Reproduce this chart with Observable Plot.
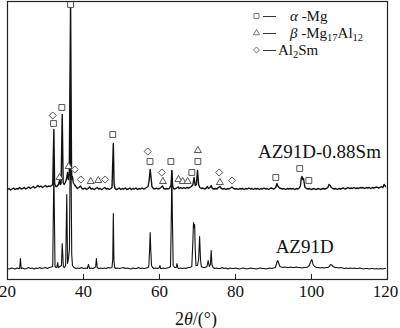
<!DOCTYPE html>
<html><head><meta charset="utf-8">
<script src="https://cdn.jsdelivr.net/npm/d3@7"></script>
<script src="https://cdn.jsdelivr.net/npm/@observablehq/plot@0.6"></script>
<style>html,body{margin:0;padding:0;background:#fff;}</style>
</head><body>
<div id="chart"></div>
<script>
// x ticks (2θ, degrees)
const xTicks = [20, 40, 60, 80, 100, 120];

// AZ91D pattern: [2θ, relative intensity]
const az91d = [[20,11],[20.5,10.5],[21,11.5],[21.5,11],[22,10.5],[22.5,11.5],[23,11],[23.2,11],[23.4,21],[23.6,11],[24,11.5],[24.5,10.5],[25,11],[25.5,12],[26,11],[26.5,11.5],[27,10.5],[27.5,11.5],[28,11],[28.5,12],[29,11],[29.5,11.5],[30,12],[30.5,11],[31,12],[31.5,12.5],[31.9,13],[32.2,110],[32.5,13],[32.8,12],[33.0,12],[33.2,17],[33.4,12],[33.8,13],[34.2,14],[34.4,36],[34.7,13],[35.0,12],[35.3,14],[35.6,85],[35.8,16],[36.0,20],[36.3,30],[36.6,175],[36.9,25],[37.1,14],[37.5,12],[38,11],[38.5,11.5],[39,11],[39.5,12],[40,11],[40.5,11.5],[41,11],[41.3,15],[41.6,11],[42,11.5],[42.5,11],[43,12],[43.2,13],[43.4,21],[43.6,12],[44,11],[44.5,11.5],[45,11],[45.5,11.5],[46,11],[46.5,12],[47,11.5],[47.5,12],[47.7,20],[47.85,66],[48.0,20],[48.2,12],[48.5,11],[49,11.5],[49.5,11],[50,11.5],[50.5,12],[51,11],[51.5,11.5],[52,11],[52.5,10.5],[53,11.5],[53.5,11],[54,11],[54.5,12],[55,11],[55.5,11.5],[56,11],[56.5,11.5],[57,12],[57.2,14],[57.4,30],[57.55,47],[57.7,30],[57.9,14],[58.2,12],[58.5,11],[59,11.5],[59.5,11],[60,12],[60.1,14],[60.3,11],[60.5,11],[61,11.5],[61.5,11],[62,11.5],[62.5,12],[62.9,13],[63.1,60],[63.25,109],[63.4,60],[63.6,14],[64,12],[64.4,12],[64.6,16],[64.8,12],[65,11],[65.5,11.5],[66,11],[66.5,11.5],[67,11],[67.5,12],[68,12],[68.5,13],[68.8,40],[68.95,57],[69.1,52],[69.25,55],[69.4,30],[69.6,14],[70,14],[70.3,20],[70.55,43],[70.8,20],[71,13],[71.5,12],[72,12],[72.5,13],[72.8,19],[73.1,13],[73.4,15],[73.6,29],[73.8,15],[74.1,12],[74.5,11],[75,11.5],[75.5,11],[76,11],[76.5,12],[77,11],[77.5,11.5],[78,10.5],[78.5,11.5],[79,11],[79.5,11],[80,11.5],[80.5,11],[81,10.5],[81.5,11],[82,11.5],[82.5,11],[83,10.5],[83.5,11],[84,11.5],[84.5,11],[85,11],[85.5,10.5],[86,11],[86.5,11.5],[87,11],[87.5,11],[88,10.5],[88.5,11],[89,11.5],[89.5,11],[90,11.5],[90.5,12],[90.8,16],[91.1,19],[91.4,16],[91.7,13],[92,12.5],[92.5,12],[93,12.5],[93.5,12],[94,12],[94.5,12.5],[95,12],[95.5,12],[96,12.5],[96.5,12],[97,12],[97.5,11.5],[98,12],[98.5,12],[99,12.5],[99.4,14],[99.8,18],[100.1,20],[100.4,15],[100.8,13],[101.3,12],[101.8,12],[102.3,11.5],[102.8,12],[103.3,11.5],[103.8,12],[104.3,12],[104.7,13],[105,15],[105.3,14.5],[105.7,13],[106.2,12],[106.7,12],[107.2,11.5],[107.7,12],[108.2,11.5],[108.7,11],[109.2,11.5],[109.7,11],[110.2,11.5],[110.7,11],[111.2,11.5],[111.7,11],[112.2,11],[112.7,11.5],[113.2,11],[113.7,10.5],[114.2,11],[114.7,11],[115.2,10.5],[115.7,11],[116.2,11],[116.7,10.5],[117.2,11],[117.7,10.5],[118.2,11],[118.7,10.5],[119.2,11],[119.5,11]];

// AZ91D-0.88Sm pattern: [2θ, relative intensity]
const az91dSm = [[20,90],[20.4,91],[20.8,89.5],[21.2,90.5],[21.6,91.5],[22,90],[22.4,91],[22.8,90.5],[23.2,92],[23.6,90.5],[24,91],[24.4,92],[24.8,90.5],[25.2,91.5],[25.6,92.5],[26,91],[26.4,92],[26.8,93],[27.2,91.5],[27.6,92.5],[28,94],[28.4,92.5],[28.8,93.5],[29.2,92],[29.6,93],[30,94],[30.4,92.5],[30.8,93.5],[31.2,93],[31.6,94],[31.9,95],[32.2,150],[32.4,96],[32.7,93],[33,93],[33.4,95],[33.7,99],[33.9,95],[34.1,96],[34.4,165],[34.65,97],[34.9,95],[35.2,97],[35.5,100],[35.8,107],[36.0,100],[36.25,105],[36.6,276],[36.85,110],[36.95,100],[37.1,103],[37.3,97],[37.6,95],[38,93],[38.4,91],[38.8,92],[39.2,93.5],[39.6,91],[40,90.5],[40.4,91.5],[40.8,90],[41.2,91],[41.6,92.5],[42,90.5],[42.4,91],[42.8,90],[43.2,91],[43.6,92],[44,90.5],[44.4,91],[44.8,90],[45.2,91],[45.6,92],[46,90.5],[46.4,91],[46.8,90],[47.2,91],[47.5,92],[47.85,136],[48.05,95],[48.3,91],[48.6,90],[49,90.5],[49.4,91.5],[49.8,90],[50.2,91],[50.6,90.5],[51,91.5],[51.4,90],[51.8,90.5],[52.2,91.5],[52.6,90],[53,91],[53.4,90.5],[53.8,91.5],[54.2,90],[54.6,91],[55,90.5],[55.4,91.5],[55.8,90.5],[56.2,91],[56.6,92],[57,93],[57.3,100],[57.55,110],[57.8,101],[58,93],[58.4,91],[58.8,90.5],[59.2,91.5],[59.6,90.5],[60,91],[60.4,92],[60.8,93.5],[61.1,91],[61.5,90.5],[61.9,91],[62.3,90.5],[62.7,91.5],[63.05,95],[63.25,109],[63.45,94],[63.7,91],[64.1,90.5],[64.5,91.5],[64.9,92.5],[65.2,91],[65.6,92],[66,91],[66.4,92],[66.8,91],[67.2,92],[67.6,91.5],[68,92],[68.4,93],[68.8,95],[69.1,102],[69.4,94],[69.7,95],[70.0,109],[70.3,95],[70.6,92],[71,91],[71.4,91.5],[71.8,90.5],[72.2,91],[72.6,93],[72.9,91],[73.3,92],[73.6,94],[73.9,91],[74.3,90.5],[74.7,91],[75.1,90.5],[75.5,92],[75.9,93],[76.3,91],[76.7,90.5],[77.1,91],[77.5,90],[77.9,91],[78.3,90.5],[78.7,91.5],[79.1,92.5],[79.5,91],[79.9,90.5],[80.3,91],[80.7,90],[81.1,91],[81.5,90.5],[81.9,91],[82.3,90],[82.7,91],[83.1,90.5],[83.5,91.5],[83.9,90.5],[84.3,91],[84.7,90],[85.1,91],[85.5,90.5],[85.9,91],[86.3,90],[86.7,91],[87.1,90.5],[87.5,91.5],[87.9,90.5],[88.3,91],[88.7,90],[89.1,91],[89.5,91.5],[89.9,90.5],[90.3,91],[90.6,92],[90.9,96],[91.2,93],[91.6,91.5],[92,91],[92.4,90.5],[92.8,91],[93.2,90],[93.6,91],[94,90.5],[94.4,91],[94.8,90.5],[95.2,91],[95.6,90],[96,91],[96.4,90.5],[96.8,91.5],[97.1,94],[97.3,101],[97.5,103],[97.7,100],[97.9,101],[98.1,96],[98.3,92],[98.7,91],[99.1,90.5],[99.5,91],[99.9,90],[100.3,90.5],[100.7,91],[101.1,90],[101.5,90.5],[101.9,91],[102.3,90],[102.7,90.5],[103.1,91],[103.5,90.5],[103.9,91],[104.3,92],[104.6,95],[104.9,94],[105.2,92],[105.6,91],[106,90.5],[106.4,91],[106.8,90],[107.2,91],[107.6,90.5],[108,91],[108.4,91.5],[108.8,90.5],[109.2,91],[109.6,92],[110,91],[110.4,91.5],[110.8,91],[111.2,92],[111.6,91],[112,91.5],[112.4,91],[112.8,92],[113.2,91.5],[113.6,92],[114,91],[114.4,92],[114.8,91.5],[115.2,92],[115.6,91],[116,92],[116.4,91.5],[116.8,92],[117.2,92.5],[117.6,91.5],[118,92],[118.4,93],[118.8,92],[119.1,95],[119.5,93]];

// phase markers [2θ, intensity level]
const alphaMg = [[32.1,156],[34.3,172],[36.6,275],[47.7,145],[57.5,118],[63.0,118],[68.5,107],[70.1,118],[90.6,102],[96.9,111],[99.3,99]];
const betaPhase = [[33.7,102],[36.1,113],[41.9,98],[43.9,99],[60.9,98],[65.0,100],[66.1,98],[67.4,98],[70.1,129],[75.9,97]];
const al2sm = [[31.9,164],[37.7,110],[39.3,100],[45.7,100],[56.9,128],[60.6,107],[75.7,107],[79.1,99]];

const sampleNames = ["AZ91D-0.88Sm", "AZ91D"];

const serif = "'Liberation Serif','Times New Roman',Times,serif";
const mk = {x: d => d[0], y: d => d[1], fill: "white", stroke: "#444", strokeWidth: 0.9};

const chart = Plot.plot({
  width: 400, height: 328,
  marginTop: 1, marginBottom: 49, marginLeft: 7, marginRight: 13,
  style: {fontFamily: serif, fontSize: "17px", background: "white", color: "#111"},
  x: {domain: [20, 120], ticks: xTicks},
  y: {domain: [0, 278], axis: null},
  marks: [
    Plot.axisX({ticks: xTicks, tickSize: 0, tickPadding: 5, label: null}),
    Plot.ruleX(xTicks, {y1: 0, y2: 5, stroke: "#222", strokeWidth: 1}),
    Plot.line(az91d, {x: d => d[0], y: d => d[1], stroke: "#111", strokeWidth: 1.1}),
    Plot.line(az91dSm, {x: d => d[0], y: d => d[1], stroke: "#111", strokeWidth: 1.4}),
    Plot.dot(alphaMg, {...mk, symbol: "square", r: 3.3}),
    Plot.dot(betaPhase, {...mk, symbol: "triangle", r: 2.6}),
    Plot.dot(al2sm, {...mk, symbol: "diamond2", r: 3.2}),
    Plot.text([sampleNames[0]], {x: 102.1, y: 122, text: d => d, lineAnchor: "bottom", textAnchor: "middle", fontSize: 19, fill: "#111", ariaLabel: "sample label"}),
    Plot.text([sampleNames[1]], {x: 98.2, y: 27, text: d => d, lineAnchor: "bottom", textAnchor: "middle", fontSize: 19, fill: "#111", ariaLabel: "sample label"}),
    Plot.frame({stroke: "#222", strokeWidth: 1.2})
  ]
});
document.getElementById("chart").append(chart);

const svg = d3.select(chart);

// slightly condensed serif like the original
function squeeze(el, k) {
  const w = el.getComputedTextLength();
  el.setAttribute("textLength", (w * k).toFixed(1));
  el.setAttribute("lengthAdjust", "spacingAndGlyphs");
}
chart.querySelectorAll('g[aria-label="sample label"] text').forEach(t => squeeze(t, 0.9));
// keep the last tick label inside the picture
const tickLabels = chart.querySelectorAll('g[aria-label="x-axis tick label"] text');
if (tickLabels.length) tickLabels[tickLabels.length - 1].setAttribute("dx", "-2");

// x-axis title: 2θ/(°)
const xt = svg.append("text")
  .attr("x", 196).attr("y", 325).attr("text-anchor", "middle")
  .attr("font-family", serif).attr("font-size", 18).attr("fill", "#111");
xt.append("tspan").text("2");
xt.append("tspan").attr("font-style", "italic").text("θ");
xt.append("tspan").text("/(°)");

// legend
const legendRows = [
  {sym: d3.symbolSquare, size: 25, parts: [["α", "i"], [" -Mg", ""]], tx: 290},
  {sym: d3.symbolTriangle, size: 16, parts: [["β", "i"], [" -Mg", ""], ["17", "s"], ["Al", ""], ["12", "s"]], tx: 290},
  {sym: d3.symbolDiamond2, size: 23, parts: [["Al", ""], ["2", "s"], ["Sm", ""]], tx: 278}
];
const lg = svg.append("g").attr("font-family", serif).attr("fill", "#111").attr("text-anchor", "start");
legendRows.forEach((r, i) => {
  const cy = 16 + i * 17;
  lg.append("path").attr("d", d3.symbol(r.sym, r.size)())
    .attr("transform", `translate(256.5,${cy})`)
    .attr("fill", "white").attr("stroke", "#555").attr("stroke-width", 0.8);
  lg.append("line").attr("x1", 263).attr("x2", 276).attr("y1", cy + 0.5).attr("y2", cy + 0.5)
    .attr("stroke", "#333").attr("stroke-width", 1);
  const t = lg.append("text").attr("x", r.tx).attr("y", cy + 5).attr("font-size", 15).attr("text-anchor", "start");
  let shifted = false;
  r.parts.forEach(([s, k]) => {
    const ts = t.append("tspan").text(s);
    if (k === "i") ts.attr("font-style", "italic");
    if (k === "s") { ts.attr("font-size", 10.5).attr("dy", shifted ? 0 : 3); shifted = true; }
    else if (shifted) { ts.attr("dy", -3); shifted = false; }
  });
});
</script>
</body></html>
